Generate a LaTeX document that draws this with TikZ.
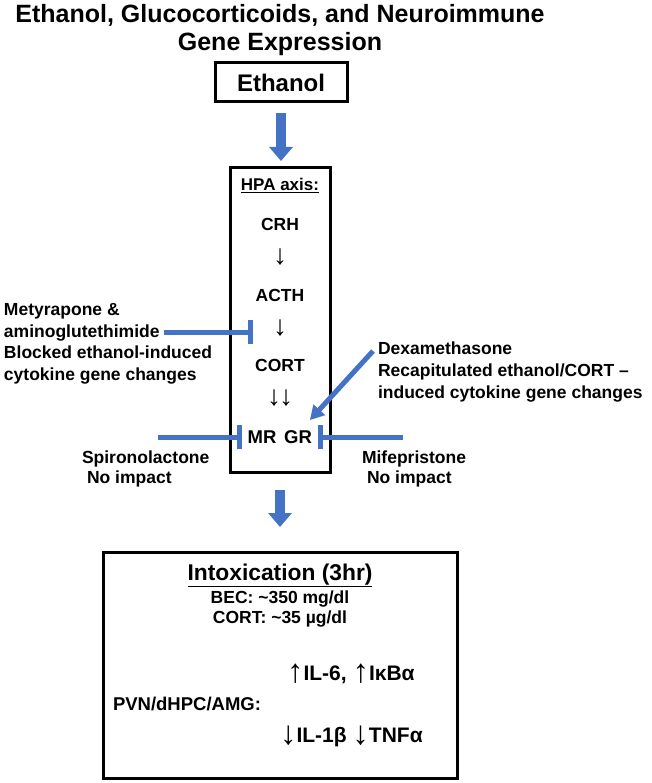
\documentclass[tikz,border=0pt]{standalone}
\usepackage{fontspec}
\setmainfont{Liberation Sans}
\usetikzlibrary{arrows.meta,calc}
\definecolor{ablue}{HTML}{4472C4}
\newcommand{\fsz}[1]{\fontsize{#1}{#1}\selectfont}
\newcommand{\uparr}{\raisebox{-2pt}{\fsz{33}\mdseries ↑}}
\newcommand{\dnarr}{\raisebox{-2pt}{\fsz{33}\mdseries ↓}}
\begin{document}
\begin{tikzpicture}[x=1pt,y=-1pt,
  every node/.style={inner sep=0pt,outer sep=0pt},
  ttl/.style={anchor=base,font=\fsz{25}\bfseries},
  boxed/.style={draw,line width=3pt},
  ctr/.style={anchor=base,font=\fsz{17.5}\bfseries},
  lft/.style={anchor=base west,font=\fsz{17.5}\bfseries},
  thinarr/.style={anchor=center,font=\fsz{28}\mdseries},
  blockarrow/.style={ablue,line width=10pt,-{Triangle[length=14pt,width=23pt]}},
  inhib/.style={ablue,line width=5pt,-{Bar[width=24pt]}},
  pointer/.style={ablue,line width=5pt,-{Triangle[length=14pt,width=15pt]}}]
\useasboundingbox (0,0) rectangle (651,783);
\fill[white] (0,0) rectangle (651,783);
% title
\node[ttl] (t1) at (280,23) {Ethanol, Glucocorticoids, and Neuroimmune};
\node[ttl] (t2) at (280,51) {Gene Expression};
% ethanol box
\node[boxed,minimum width=132pt,minimum height=39pt,font=\fsz{24}\bfseries] (eth) at (281,82.5) {Ethanol};
% HPA box
\node[boxed,minimum width=100pt,minimum height=304pt] (hpa) at (280,320) {};
\node[ctr,font=\fsz{17}\bfseries] (hpal) at (280,191) {\underline{HPA axis:}};
\node[ctr] (crh) at (280,231) {CRH};
\node[thinarr] (a1) at (280,257) {↓};
\node[ctr] (acth) at (280,301) {ACTH};
\node[thinarr] (a2) at (280,328) {↓};
\node[ctr] (cort) at (280,371) {CORT};
\node[thinarr] (a3) at (280,398) {↓\kern-2pt↓};
\node[ctr,font=\fsz{18.5}\bfseries] (mr) at (262,443) {MR};
\node[ctr,font=\fsz{18.5}\bfseries] (gr) at (298,443) {GR};
% left: metyrapone
\node[lft] (m1) at (4,315) {Metyrapone \&};
\node[lft] (m2) at (4,337) {aminoglutethimide};
\node[lft] (m3) at (4,358.5) {Blocked ethanol-induced};
\node[lft] (m4) at (4,380) {cytokine gene changes};
\coordinate (metbar) at (253,332);
\draw[inhib] (m2.east |- metbar) ++(4,0) coordinate (metstart) -- (metbar);
% spironolactone
\node[lft] (s1) at (82,463) {Spironolactone};
\node[lft] (s2) at (87,483) {No impact};
\coordinate (spst) at (158,437);
\draw[inhib,shorten >=6pt] (spst) -- (spst -| mr.west);
% mifepristone
\node[lft] (f1) at (362,463) {Mifepristone};
\node[lft] (f2) at (367,483) {No impact};
\coordinate (mfst) at (403,437);
\draw[inhib,shorten >=6pt] (mfst) -- (mfst -| gr.east);
% dexamethasone
\node[lft] (d1) at (378,354) {Dexamethasone};
\node[lft] (d2) at (378,376) {Recapitulated ethanol/CORT –};
\node[lft] (d3) at (378,398) {induced cytokine gene changes};
\coordinate (dexst) at (373,351);
\draw[pointer] (dexst) -- ([xshift=-2pt,yshift=10pt]gr.north east);
% result box
\node[boxed,minimum width=354pt,minimum height=226pt] (res) at (280,665) {};
\node[ctr,font=\fsz{22.8}\bfseries] (intox) at (280,580) {\underline{Intoxication (3hr)}};
\node[ctr] (bec) at (280,603) {BEC: \textasciitilde350 mg/dl};
\node[ctr] (cortv) at (280,623) {CORT: \textasciitilde35 µg/dl};
\node[lft,font=\fsz{21}\bfseries] (up) at (287,680) {\uparr IL-6, \uparr IκBα};
\node[lft,font=\fsz{18.5}\bfseries] (pvn) at (113,710) {PVN/dHPC/AMG:};
\node[lft,font=\fsz{21}\bfseries] (dn) at (280,742) {\dnarr IL-1β \dnarr TNFα};
% block arrows
\draw[blockarrow,shorten <=11pt,shorten >=7pt] (eth.south) -- (eth.south |- hpa.north);
\draw[blockarrow,shorten <=18pt,shorten >=25pt] (hpa.south) -- (res.north);
\end{tikzpicture}
\end{document}
